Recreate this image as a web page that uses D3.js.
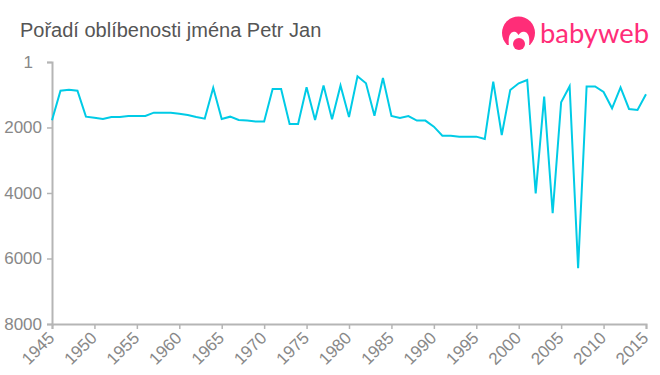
<!DOCTYPE html>
<html>
<head>
<meta charset="utf-8">
<script src="https://cdn.jsdelivr.net/npm/d3@7"></script>
<style>
  html, body { margin: 0; padding: 0; background: #fff; }
  svg { display: block; }
</style>
</head>
<body>
<div id="chart"></div>
<script>
const years = d3.range(1945, 2016);
const ranks = [
  1780, 876, 845, 876, 1670, 1700, 1740, 1680, 1680, 1650,
  1650, 1650, 1547, 1547, 1547, 1580, 1620, 1680, 1730, 785,
  1740, 1670, 1770, 1790, 1820, 1820, 825, 825, 1893, 1893,
  770, 1770, 720, 1750, 720, 1680, 437, 651, 1640, 490,
  1650, 1710, 1650, 1790, 1790, 1975, 2250, 2250, 2280, 2280,
  2280, 2350, 600, 2230, 855, 650, 550, 4010, 1060, 4620,
  1230, 740, 6300, 750, 750, 916, 1415, 775, 1435, 1465,
  987
];
const xTicks = d3.range(1945, 2016, 5);
const yTicks = [1, 2000, 4000, 6000, 8000];

const W = 660, H = 375;
const m = { top: 62, right: 14, bottom: 51, left: 52 };
const w = W - m.left - m.right, h = H - m.top - m.bottom;
const fontFamily = '"Liberation Sans", Arial, sans-serif';

const svg = d3.select('#chart').append('svg').attr('width', W).attr('height', H);

// Title
svg.append('text')
  .attr('x', 20).attr('y', 37)
  .attr('font-family', fontFamily).attr('font-size', '20px').attr('fill', '#555')
  .text('Pořadí oblíbenosti jména Petr Jan');

const g = svg.append('g').attr('transform', `translate(${m.left},${m.top})`);

const x = d3.scaleLinear().domain([1945, 2015]).range([0, w]);
const y = d3.scaleLinear().domain([1, 8000]).range([0, h]);

// X axis
g.append('g').attr('transform', `translate(0,${h})`)
  .call(d3.axisBottom(x).tickValues(xTicks).tickFormat(d3.format('d')).tickSize(5))
  .call(a => a.select('.domain').attr('stroke', '#b5b5b5').attr('stroke-width', 2))
  .call(a => a.selectAll('.tick line').attr('stroke', '#b5b5b5').attr('stroke-width', 1.5))
  .selectAll('text')
  .attr('font-family', fontFamily).attr('font-size', '17px').attr('fill', '#888')
  .attr('text-anchor', 'end').attr('x', 0).attr('y', 0).attr('dy', 0)
  .attr('transform', 'translate(3,15) rotate(-45)');

// Y axis
g.append('g')
  .call(d3.axisLeft(y).tickValues(yTicks).tickFormat(d3.format('d')).tickSize(5).tickPadding(5))
  .call(a => a.select('.domain').attr('stroke', '#b5b5b5').attr('stroke-width', 2))
  .call(a => a.selectAll('.tick line').attr('stroke', '#b5b5b5').attr('stroke-width', 1.5))
  .selectAll('text')
  .attr('font-family', fontFamily).attr('font-size', '17px').attr('fill', '#888')
  .attr('dx', d => d === 1 ? '-9px' : 0);

// Line
const line = d3.line().x((d, i) => x(years[i])).y(d => y(d));
g.append('path').datum(ranks).attr('d', line)
  .attr('fill', 'none').attr('stroke', '#00cbe6').attr('stroke-width', 2)
  .attr('stroke-linejoin', 'miter');

// Logo
const logo = svg.append('g');
logo.append('circle').attr('cx', 518.5).attr('cy', 33).attr('r', 16.5).attr('fill', '#ff2d78');
logo.append('path').attr('fill', '#fff')
  .attr('d', 'M509 46 C508 39 509 33 513 32 C516 31 517 33 518.5 35 C520 33 522 31 525 32 C529 33 530 39 529 46 Z');
logo.append('rect').attr('x', 500).attr('y', 45).attr('width', 38).attr('height', 6).attr('fill', '#fff');
logo.append('circle').attr('cx', 519).attr('cy', 44).attr('r', 6).attr('fill', '#ff2d78');
logo.append('text')
  .attr('x', 540).attr('y', 43).attr('fill', '#ff2d78')
  .attr('font-family', 'Lato, "Open Sans", sans-serif').attr('font-size', '27px')
  .attr('textLength', 109).attr('lengthAdjust', 'spacingAndGlyphs')
  .text('babyweb');
</script>
</body>
</html>
